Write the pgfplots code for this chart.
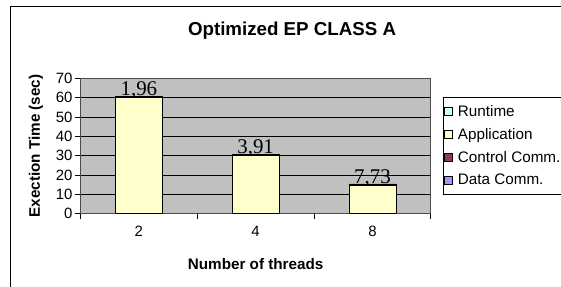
\documentclass[border=0pt]{standalone}
\usepackage{fontspec}
\setmainfont{Liberation Sans}
\newfontfamily\tnr{Liberation Serif}
\usepackage{pgfplots}
\pgfplotsset{compat=1.18}
\definecolor{plotgray}{HTML}{C0C0C0}
\definecolor{cRun}{HTML}{CCFFFF}
\definecolor{cApp}{HTML}{FFFFCC}
\definecolor{cCtl}{HTML}{993366}
\definecolor{cDat}{HTML}{9999FF}
\pgfplotsset{sqleg/.style={legend image code/.code={\draw[#1, draw=black, line width=0.6bp] (1bp,-4bp) rectangle (9bp,4bp);}}}
\begin{document}
\begin{tikzpicture}
\clip (0,0) rectangle (561bp,287bp);
\fill[white] (0,0) rectangle (561bp,287bp);
\draw[black, line width=1bp] (10bp,280bp) rectangle (620bp,-20bp);
\begin{axis}[
  at={(80.5bp,73.3bp)}, anchor=south west,
  scale only axis, width=350.3bp, height=135.4bp,
  ybar stacked, bar width=47bp,
  xmin=-0.5, xmax=2.5, ymin=0, ymax=70,
  xtick={0,1,2}, xticklabels={2,4,8},
  minor xtick={-0.5,0.5,1.5,2.5},
  ytick={0,10,...,70},
  major x tick style={draw=none},
  minor tick length=5bp, major tick length=5bp,
  tick align=outside, tick pos=left,
  tick style={black, line width=0.8bp},
  axis background/.style={fill=plotgray},
  axis line style={draw=gray!60!black, line width=0.8bp},
  ymajorgrids, grid style={black, line width=0.8bp},
  /pgf/number format/assume math mode=true,
  tick label style={font=\fontsize{15}{16}\selectfont},
  yticklabel style={xshift=0.5bp},
  xticklabel style={yshift=-4bp},
  xlabel={Number of threads},
  ylabel={Exection Time (sec)},
  every axis x label/.style={at={(axis description cs:0.5,-0.371)}, anchor=center, font=\fontsize{15.3}{17}\selectfont\bfseries},
  every axis y label/.style={at={(axis description cs:-0.127,0.5)}, rotate=90, anchor=center, font=\fontsize{15.3}{17}\selectfont\bfseries},
  title={Optimized EP CLASS A},
  every axis title/.style={at={(axis description cs:0.604,1.349)}, anchor=center, font=\fontsize{18.8}{20}\selectfont\bfseries},
  legend style={at={(axis description cs:1.035,0.862)}, anchor=north west,
    draw=black, fill=white, line width=0.6bp, font=\fontsize{15.3}{16}\selectfont,
    inner xsep=1bp, inner ysep=6bp, row sep=6.5bp, cells={anchor=west},
    /tikz/every odd column/.append style={column sep=3bp}},
]
\addlegendimage{fill=cRun, sqleg}
\addlegendentry{Runtime}
\addplot[fill=cApp, draw=black, line width=0.8bp, sqleg] coordinates {(0,60.0) (1,29.9) (2,14.7)};
\addlegendentry{Application}
\addplot[fill=cCtl, draw=black, line width=0.8bp, sqleg,
  point meta=explicit symbolic, nodes near coords,
  every node near coord/.style={anchor=base, yshift=1.2bp, font=\fontsize{21}{22}\tnr, text=black}]
  coordinates {(0,0.7) [1,96] (1,0.7) [3,91] (2,0.7) [7,73]};
\addlegendentry{Control Comm.}
\addlegendimage{fill=cDat, sqleg}
\addlegendentry{Data Comm.}
\end{axis}
\end{tikzpicture}
\end{document}
